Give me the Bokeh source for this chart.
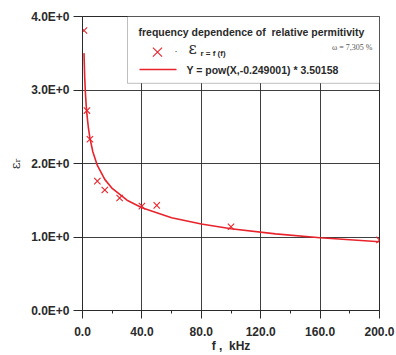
import math
from bokeh.plotting import figure
from bokeh.models import FixedTicker, Label, BoxAnnotation, Range1d
from bokeh.embed import file_html
from bokeh.resources import INLINE

# measured data points
freq_khz = [1, 3, 5, 10, 15, 25, 40, 50, 100, 200]
eps_r = [3.81, 2.72, 2.33, 1.76, 1.64, 1.53, 1.42, 1.43, 1.14, 0.96]

# fit curve Y = pow(X,-0.249001) * 3.50158, sampled values
fit_x = [1, 1.5, 2, 2.5, 3, 4, 5, 7, 10, 15, 20, 30, 40, 60, 80, 100, 130, 160, 200]
fit_y = [3.502, 3.166, 2.947, 2.787, 2.664, 2.480, 2.346, 2.157, 1.974, 1.784,
         1.661, 1.501, 1.398, 1.263, 1.176, 1.112, 1.042, 0.990, 0.936]

x_ticks = [0, 40, 80, 120, 160, 200]
x_minor = [20, 60, 100, 140, 180]
x_labels = ["0.0", "40.0", "80.0", "120.0", "160.0", "200.0"]
y_ticks = [0, 1, 2, 3, 4]
y_labels = ["0.0E+0", "1.0E+0", "2.0E+0", "3.0E+0", "4.0E+0"]

RED = "#e8232b"
DARK = "#2a2a2a"

W, H = 396, 355
p = figure(width=W, height=H, output_backend="svg", toolbar_location=None,
           x_range=Range1d(0, 200), y_range=Range1d(0, 4),
           min_border_left=82, min_border_right=17, min_border_top=16, min_border_bottom=42)
p.background_fill_color = "white"
p.border_fill_color = "white"
p.outline_line_color = DARK
p.outline_line_width = 1

for ax in (p.xaxis[0], p.yaxis[0]):
    ax.axis_line_color = DARK
    ax.major_tick_line_color = DARK
    ax.minor_tick_line_color = DARK
    ax.major_label_text_font = "Liberation Sans"
    ax.major_label_text_font_style = "bold"
    ax.major_label_text_font_size = "12px"
    ax.major_label_text_color = DARK
    ax.major_tick_in = 0

p.xaxis.ticker = FixedTicker(ticks=x_ticks, minor_ticks=x_minor)
p.xaxis.major_label_overrides = {t: l for t, l in zip(x_ticks, x_labels)}
p.xaxis.major_tick_out = 8
p.xaxis.minor_tick_out = 3
p.xaxis.minor_tick_in = 0
p.xaxis.major_label_standoff = 8
p.xaxis.axis_label = "f ,\u00a0 kHz"
p.xaxis.axis_label_text_font = "Liberation Sans"
p.xaxis.axis_label_text_font_style = "bold"
p.xaxis.axis_label_text_font_size = "12px"
p.xaxis.axis_label_text_color = DARK
p.xaxis.axis_label_standoff = 0

p.yaxis.ticker = FixedTicker(ticks=y_ticks, minor_ticks=[])
p.yaxis.major_label_overrides = {t: l for t, l in zip(y_ticks, y_labels)}
p.yaxis.major_tick_out = 9
p.yaxis.minor_tick_out = 0
p.yaxis.major_label_standoff = 4
p.yaxis.axis_label = "\u03b5\u1d63"
p.yaxis.axis_label_text_font = "DejaVu Serif"
p.yaxis.axis_label_text_font_style = "normal"
p.yaxis.axis_label_text_font_size = "13px"
p.yaxis.axis_label_text_color = DARK
p.yaxis.axis_label_standoff = 5

p.xgrid.ticker = FixedTicker(ticks=x_ticks)
p.ygrid.ticker = FixedTicker(ticks=y_ticks)
p.grid.grid_line_color = DARK
p.grid.grid_line_alpha = 0.9
p.grid.grid_line_width = 1

p.line(fit_x, fit_y, line_color=RED, line_width=1.6)
p.scatter(freq_khz, eps_r, marker="x", size=9, line_color=RED, line_width=1.1)

# helpers mapping page pixels to data coordinates (layout only)
def xd(px):
    return (px - 82) / (297.0 / 200)

def yd(py):
    return (313 - py) / (297.0 / 4)

# legend box
p.add_layout(BoxAnnotation(left=xd(127), right=200, top=4.0, bottom=yd(83.5),
                           fill_color="white", fill_alpha=1.0,
                           line_color=DARK, line_width=1, level="annotation"))

def lab(text, px, py, size, font="Liberation Sans", style="bold", color=DARK,
        align="left", angle=0):
    p.add_layout(Label(x=xd(px), y=yd(py), text=text, text_font=font,
                       text_font_style=style, text_font_size=size, text_color=color,
                       text_align=align, text_baseline="middle", angle=angle,
                       level="overlay"))

lab("frequency dependence of\u00a0 relative permitivity", 138, 31.5, "10.5px")
lab("\u03b5", 188, 48, "16px", font="DejaVu Serif", style="normal")
lab("r = f (f)", 200, 53, "8px")
lab("\u03c9 = 7,305 %", 372, 47, "8px", font="Liberation Serif", style="normal",
    color="#555555", align="right")
lab("Y = pow(X,-0.249001) * 3.50158", 186, 70, "10.5px")
lab("\u00b7", 174, 51, "9px", style="normal")

# legend symbols
p.scatter([xd(157)], [yd(52)], marker="x", size=13, line_color=RED, line_width=1.1,
          level="overlay")
p.line([xd(139), xd(176)], [yd(69.5), yd(69.5)], line_color=RED, line_width=1.6,
       level="overlay")

open("out.html", "w").write(file_html(p, INLINE))
